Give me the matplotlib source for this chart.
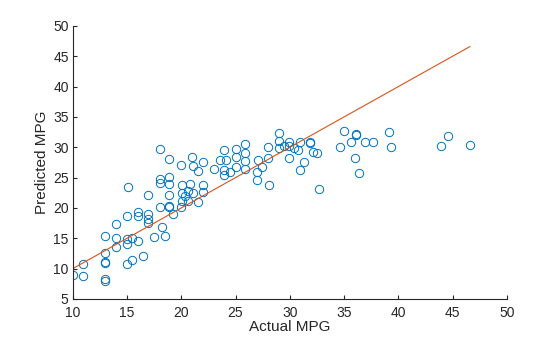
import numpy as np
import matplotlib
matplotlib.use("Agg")
import matplotlib.pyplot as plt

plt.rcParams['font.family'] = ['Liberation Sans', 'DejaVu Sans']

# actual vs predicted MPG (test set)
actual_mpg = [10.0, 10.95, 10.95, 13.0, 13.0, 13.0, 13.0, 13.0, 13.0, 14.0,
              14.0, 14.0, 15.0, 15.0, 15.0, 15.0, 15.5, 15.5, 16.0, 16.0,
              16.0, 16.5, 16.9, 16.9, 16.9, 17.5, 18.0, 18.2, 18.5, 18.9,
              19.2, 20.0, 15.1, 18.0, 18.9, 20.0, 21.0, 21.1, 21.5, 22.0,
              23.0, 23.6, 23.9, 24.1, 23.9, 23.9, 24.5, 25.0, 25.0, 25.0,
              18.0, 18.0, 18.9, 18.9, 18.9, 18.9, 16.9, 20.1, 20.8, 22.0,
              22.0, 20.1, 20.3, 20.6, 21.1, 20.1, 20.6, 21.5, 29.0, 29.0,
              29.0, 29.9, 29.9, 29.5, 30.4, 30.9, 30.8, 31.9, 31.9, 32.1,
              32.5, 29.9, 31.3, 30.9, 32.7, 28.0, 28.0, 27.1, 27.4, 27.0,
              27.0, 28.1, 25.9, 25.9, 25.9, 25.9, 35.0, 36.1, 36.1, 39.1,
              34.6, 35.6, 36.9, 37.7, 39.3, 36.0, 36.4, 44.6, 43.9, 46.6]
predicted_mpg = [9.0, 10.8, 8.7, 15.4, 12.5, 11.1, 10.9, 8.3, 7.9, 17.3,
                 15.0, 13.5, 18.7, 14.9, 14.0, 10.7, 11.4, 15.1, 19.3, 18.6,
                 14.6, 12.1, 19.0, 18.2, 17.5, 15.2, 20.1, 16.8, 15.4, 20.1,
                 19.0, 20.1, 23.4, 29.7, 28.0, 27.0, 28.4, 26.9, 26.1, 27.6,
                 26.5, 27.9, 29.5, 27.9, 26.3, 25.5, 25.9, 29.7, 28.4, 26.7,
                 24.8, 24.1, 25.1, 23.9, 22.2, 20.4, 22.2, 23.7, 23.9, 23.7,
                 22.7, 22.4, 21.9, 22.8, 22.4, 21.1, 21.1, 21.0, 32.3, 31.0,
                 29.8, 30.9, 30.2, 30.2, 29.8, 30.9, 29.5, 30.9, 30.7, 29.2,
                 29.0, 28.3, 27.5, 26.3, 23.1, 30.0, 28.2, 27.9, 26.8, 25.9,
                 24.6, 23.7, 30.5, 29.1, 27.7, 26.4, 32.7, 32.0, 32.2, 32.5,
                 30.0, 30.8, 30.8, 30.8, 30.1, 28.2, 25.7, 31.9, 30.2, 30.4]

# reference line y = x over the range of actual values
line_x = [min(actual_mpg), max(actual_mpg)]

axis_color = (0.15, 0.15, 0.15)

fig = plt.figure(figsize=(5.6, 3.37), dpi=100)
ax = fig.add_axes([0.13, 0.113, 0.775, 0.81])

ax.plot(actual_mpg, predicted_mpg, 'o', mfc='none', mec=(0, 0.447, 0.741),
        ms=6, mew=0.7)
ax.plot(line_x, line_x, '-', color=(0.85, 0.325, 0.098), lw=0.8)

ax.set_xlim(10, 50)
ax.set_ylim(5, 50)
ax.set_xticks(np.arange(10, 51, 5))
ax.set_yticks(np.arange(5, 51, 5))

for side in ['top', 'right']:
    ax.spines[side].set_visible(False)
for side in ['left', 'bottom']:
    ax.spines[side].set_color(axis_color)
    ax.spines[side].set_linewidth(0.8)

ax.tick_params(direction='in', length=3, width=0.8, colors=axis_color,
               labelsize=10)
ax.tick_params(axis='x', pad=5)
ax.tick_params(axis='y', pad=3)
ax.set_xlabel('Actual MPG', fontsize=11, color=axis_color, labelpad=0)
ax.set_ylabel('Predicted MPG', fontsize=11, color=axis_color, labelpad=3)

fig.savefig('out.png', dpi=100)
